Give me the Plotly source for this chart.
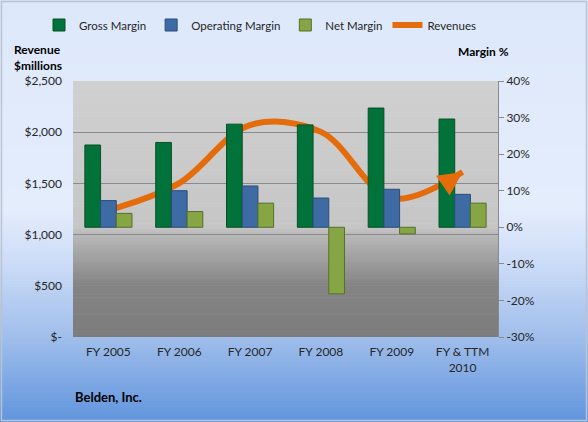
import plotly.graph_objects as go

categories = ["FY 2005", "FY 2006", "FY 2007", "FY 2008", "FY 2009", "FY & TTM<br>2010"]
gross_margin = [22.5, 23.2, 28.2, 28.0, 32.6, 29.6]
operating_margin = [7.3, 10.0, 11.3, 8.0, 10.4, 9.0]
net_margin = [3.8, 4.3, 6.6, -18.2, -1.8, 6.6]
revenues = [1237, 1502, 2070, 2003, 1355, 1612]

rev_ticks = [0, 500, 1000, 1500, 2000, 2500]
rev_ticktext = ["$-", "$500", "$1,000", "$1,500", "$2,000", "$2,500"]
margin_ticks = [-30, -20, -10, 0, 10, 20, 30, 40]
margin_ticktext = ["-30%", "-20%", "-10%", "0%", "10%", "20%", "30%", "40%"]

W, H = 588, 422
ML, MR, MT, MB = 73, 90, 81, 85
PW, PH = W - ML - MR, H - MT - MB

FONT = "Lato, Calibri, 'Open Sans', sans-serif"
TXT = "#262626"
ORANGE = "#e46c0a"

fig = go.Figure()

fig.add_trace(go.Bar(
    x=categories, y=gross_margin, name="Gross Margin", yaxis="y2",
    marker=dict(color="#00723a", line=dict(color="#0b4f26", width=1)),
))
fig.add_trace(go.Bar(
    x=categories, y=operating_margin, name="Operating Margin", yaxis="y2",
    marker=dict(color="#3e6ba4", line=dict(color="#2a4d7a", width=1)),
))
fig.add_trace(go.Bar(
    x=categories, y=net_margin, name="Net Margin", yaxis="y2",
    marker=dict(color="#86a645", line=dict(color="#566f2a", width=1)),
))
fig.add_trace(go.Scatter(
    x=categories, y=revenues, name="Revenues", yaxis="y", mode="lines",
    line=dict(color=ORANGE, width=6, shape="spline", smoothing=1.0),
))


def lerp_stops(stops, t):
    for (t0, c0), (t1, c1) in zip(stops[:-1], stops[1:]):
        if t0 <= t <= t1:
            f = 0 if t1 == t0 else (t - t0) / (t1 - t0)
            return tuple(round(a + (b - a) * f) for a, b in zip(c0, c1))
    return stops[-1][1]


shapes = []
page_stops = [(0.0, (221, 232, 251)), (0.5, (228, 237, 252)), (0.62, (204, 220, 247)),
              (0.8, (160, 190, 235)), (1.0, (96, 148, 221))]
n = 140
x0p, x1p = -ML / PW, 1 + MR / PW
for i in range(n):
    top = 1 + MT / PH - i * (H / n) / PH
    bot = top - (H / n) / PH - 0.002
    r, g, b = lerp_stops(page_stops, (i + 0.5) / n)
    shapes.append(dict(type="rect", xref="paper", yref="paper", x0=x0p, x1=x1p,
                       y0=bot, y1=top, fillcolor=f"rgb({r},{g},{b})",
                       line=dict(width=0), layer="below"))
plot_stops = [(0.0, (208, 208, 208)), (0.57, (198, 198, 198)), (0.6, (184, 184, 184)),
              (0.8, (132, 132, 132)), (1.0, (124, 124, 124))]
n2 = 90
for i in range(n2):
    top = 1 - i / n2
    bot = top - 1 / n2 - 0.002
    r, g, b = lerp_stops(plot_stops, (i + 0.5) / n2)
    shapes.append(dict(type="rect", xref="paper", yref="paper", x0=0, x1=1,
                       y0=max(bot, 0), y1=top, fillcolor=f"rgb({r},{g},{b})",
                       line=dict(width=0), layer="below"))
shapes.append(dict(type="rect", xref="paper", yref="paper",
                   x0=x0p + 1.5 / PW, x1=x1p - 1.5 / PW,
                   y0=-MB / PH + 1.5 / PH, y1=1 + MT / PH - 1.5 / PH,
                   line=dict(color="#b9c3d3", width=1.5), fillcolor="rgba(0,0,0,0)",
                   layer="above"))

annotations = [
    dict(text="<b>Revenue<br>$millions</b>", xref="paper", yref="paper",
         x=-61 / PW, y=1 + (81 - 40) / PH, xanchor="left", yanchor="top",
         showarrow=False, align="left", font=dict(size=12, color="#000000", family=FONT)),
    dict(text="<b>Margin %</b>", xref="paper", yref="paper",
         x=(511 - ML) / PW, y=1 + (81 - 42) / PH, xanchor="right", yanchor="top",
         showarrow=False, font=dict(size=12, color="#000000", family=FONT)),
    dict(text="<b>Belden, Inc.</b>", xref="paper", yref="paper",
         x=0, y=-(397 - 337) / PH, xanchor="left", yanchor="middle",
         showarrow=False, font=dict(size=13, color="#000000", family=FONT)),
    # arrowhead at the end of the revenue line
    dict(text="", xref="x", yref="y", x=categories[-1], y=revenues[-1],
         ax=-16, ay=11, showarrow=True, arrowhead=2, arrowsize=0.8,
         arrowwidth=6, arrowcolor=ORANGE, standoff=0),
]

fig.update_layout(
    width=W, height=H,
    margin=dict(l=ML, r=MR, t=MT, b=MB, pad=0, autoexpand=False),
    paper_bgcolor="rgb(221,232,251)",
    plot_bgcolor="rgba(0,0,0,0)",
    font=dict(family=FONT, size=12, color=TXT),
    barmode="group", bargap=0.335, bargroupgap=0,
    shapes=shapes, annotations=annotations,
    showlegend=True,
    legend=dict(orientation="h", x=(39 - ML) / PW, xanchor="left",
                y=1 + (81 - 25) / PH, yanchor="middle",
                bgcolor="rgba(0,0,0,0)", font=dict(size=11.5, color=TXT, family=FONT),
                itemwidth=30, traceorder="normal"),
    xaxis=dict(type="category", showgrid=False, showline=False, ticks="",
               tickfont=dict(size=12, color=TXT, family=FONT), ticklabelstandoff=6),
    yaxis=dict(range=[0, 2500], tickvals=rev_ticks, ticktext=rev_ticktext,
               showgrid=True, gridcolor="#8a8a8a", gridwidth=1, zeroline=False,
               showline=False, ticks="", tickfont=dict(size=12, color=TXT, family=FONT),
               ticklabelstandoff=10),
    yaxis2=dict(range=[-30, 40], tickvals=margin_ticks, ticktext=margin_ticktext,
                overlaying="y", side="right", showgrid=False, zeroline=False,
                showline=True, linecolor="#8a8a8a", linewidth=1,
                ticks="outside", ticklen=5, tickcolor="#8a8a8a",
                tickfont=dict(size=12, color=TXT, family=FONT)),
)

fig.write_html("out.html", config={"displayModeBar": False},
               post_script="document.body.style.margin='0';document.body.style.overflow='hidden';")
